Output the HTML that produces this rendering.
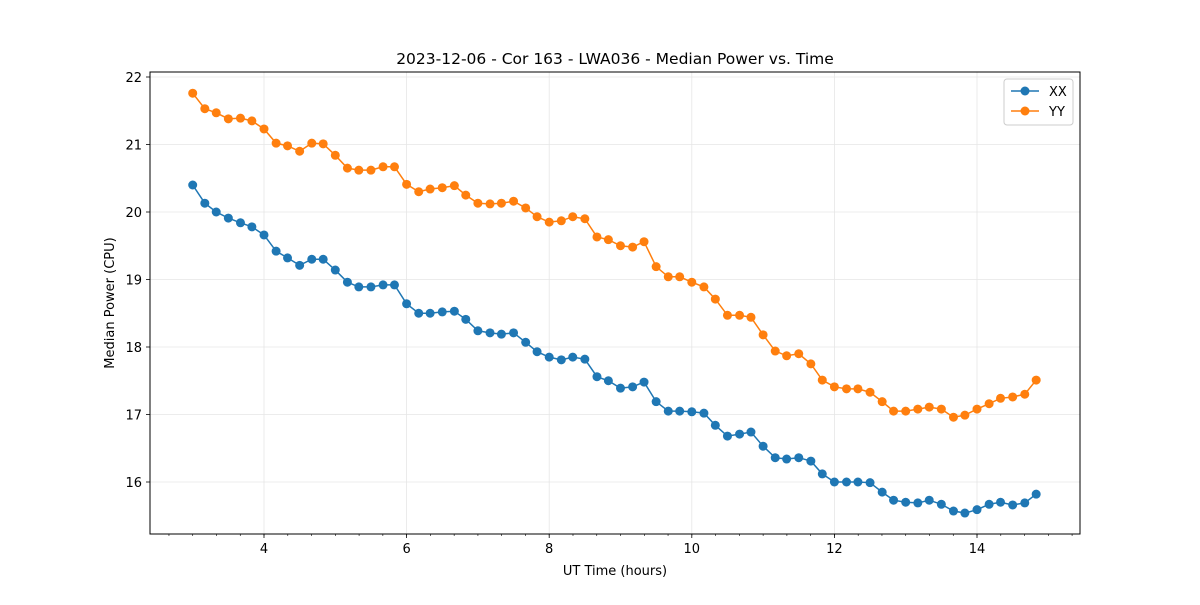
<!DOCTYPE html>
<html><head><meta charset="utf-8"><style>
body{margin:0;background:#fff;font-family:"Liberation Sans","DejaVu Sans",sans-serif}
svg text{font-family:"DejaVu Sans","Liberation Sans",sans-serif;fill:#000}
</style></head><body>
<svg id="c" width="1200" height="600"></svg>
<script>
const times=[3.00,3.17,3.33,3.50,3.67,3.83,4.00,4.17,4.33,4.50,4.67,4.83,5.00,5.17,5.33,5.50,5.67,5.83,6.00,6.17,6.33,6.50,6.67,6.83,7.00,7.17,7.33,7.50,7.67,7.83,8.00,8.17,8.33,8.50,8.67,8.83,9.00,9.17,9.33,9.50,9.67,9.83,10.00,10.17,10.33,10.50,10.67,10.83,11.00,11.17,11.33,11.50,11.67,11.83,12.00,12.17,12.33,12.50,12.67,12.83,13.00,13.17,13.33,13.50,13.67,13.83,14.00,14.17,14.33,14.50,14.67,14.83];
const xxValues=[20.40,20.13,20.00,19.91,19.84,19.78,19.66,19.42,19.32,19.21,19.30,19.30,19.14,18.96,18.89,18.89,18.92,18.92,18.64,18.50,18.50,18.52,18.53,18.41,18.24,18.21,18.19,18.21,18.07,17.93,17.85,17.81,17.85,17.82,17.56,17.50,17.39,17.41,17.48,17.19,17.05,17.05,17.04,17.02,16.84,16.68,16.71,16.74,16.53,16.36,16.34,16.36,16.31,16.12,16.00,16.00,16.00,15.99,15.85,15.73,15.70,15.69,15.73,15.67,15.57,15.54,15.59,15.67,15.70,15.66,15.69,15.82];
const yyValues=[21.76,21.53,21.47,21.38,21.39,21.35,21.23,21.02,20.98,20.90,21.02,21.01,20.84,20.65,20.62,20.62,20.67,20.67,20.41,20.30,20.34,20.36,20.39,20.25,20.13,20.12,20.13,20.16,20.06,19.93,19.85,19.87,19.93,19.90,19.63,19.59,19.50,19.48,19.56,19.19,19.04,19.04,18.96,18.89,18.71,18.47,18.47,18.44,18.18,17.94,17.87,17.90,17.75,17.51,17.41,17.38,17.38,17.33,17.19,17.05,17.05,17.08,17.11,17.08,16.96,16.99,17.08,17.16,17.24,17.26,17.30,17.51];
const xTicks=[4,6,8,10,12,14];
const yTicks=[16,17,18,19,20,21,22];
const NS='http://www.w3.org/2000/svg';
const svg=document.getElementById('c');
const L=150,R=1080,T=72,B=534;
const xs=v=>264+(v-4)*71.3;
const ys=v=>482-(v-16)*67.5;
function mk(tag,at,parent){const e=document.createElementNS(NS,tag);for(const k in at)e.setAttribute(k,at[k]);(parent||svg).appendChild(e);return e;}
// grid
xTicks.forEach(t=>{const g=mk('line',{x1:xs(t),x2:xs(t),y1:T,y2:B,stroke:'#e6e6e6','stroke-width':0.8});

});
yTicks.forEach(t=>{const g=mk('line',{x1:L,x2:R,y1:ys(t),y2:ys(t),stroke:'#e6e6e6','stroke-width':0.8});

});
// series
function series(vals,color,name){
  const g=mk('g',{});
  
  
  mk('polyline',{points:vals.map((v,i)=>xs(times[i])+','+ys(v)).join(' '),fill:'none',stroke:color,'stroke-width':1.5},g);
  vals.forEach((v,i)=>{const c=mk('circle',{cx:xs(times[i]),cy:ys(v),r:4.5,fill:color},g);
  
  });
}
series(xxValues,'#1f77b4','series-xx');
series(yyValues,'#ff7f0e','series-yy');
// frame
const fr=mk('rect',{x:L,y:T,width:R-L,height:B-T,fill:'none',stroke:'#000','stroke-width':1});


// x ticks
for(let m=2.667;m<15.4;m+=1/3){mk('line',{x1:xs(m),x2:xs(m),y1:B,y2:B+2,stroke:'#000','stroke-width':0.6});}
xTicks.forEach(t=>{mk('line',{x1:xs(t),x2:xs(t),y1:B,y2:B+4,stroke:'#000','stroke-width':0.8});
const tx=mk('text',{x:xs(t),y:B+19,'text-anchor':'middle','font-size':13});tx.textContent=t;

});
yTicks.forEach(t=>{mk('line',{x1:L-4,x2:L,y1:ys(t),y2:ys(t),stroke:'#000','stroke-width':0.8});
const tx=mk('text',{x:L-8,y:ys(t)+5,'text-anchor':'end','font-size':13});tx.textContent=t;

});
</script>
<svg width="1200" height="600" style="position:absolute;left:0;top:0">
<text x="615" y="64" text-anchor="middle" font-size="15.5">2023-12-06 - Cor 163 - LWA036 - Median Power vs. Time</text>
<text x="615" y="575" text-anchor="middle" font-size="13">UT Time (hours)</text>
<text x="114" y="303" text-anchor="middle" font-size="13" transform="rotate(-90 114 303)">Median Power (CPU)</text>
<g>
<rect x="1004" y="79" width="69" height="46" rx="3" fill="#fff" stroke="#ccc" stroke-width="1"/>
<g><line x1="1011" x2="1039" y1="91" y2="91" stroke="#1f77b4" stroke-width="1.5"/><circle cx="1025" cy="91" r="4.5" fill="#1f77b4"/><text x="1049" y="96" font-size="13">XX</text></g>
<g><line x1="1011" x2="1039" y1="111" y2="111" stroke="#ff7f0e" stroke-width="1.5"/><circle cx="1025" cy="111" r="4.5" fill="#ff7f0e"/><text x="1049" y="116" font-size="13">YY</text></g>
</g>
</svg>
</body></html>
